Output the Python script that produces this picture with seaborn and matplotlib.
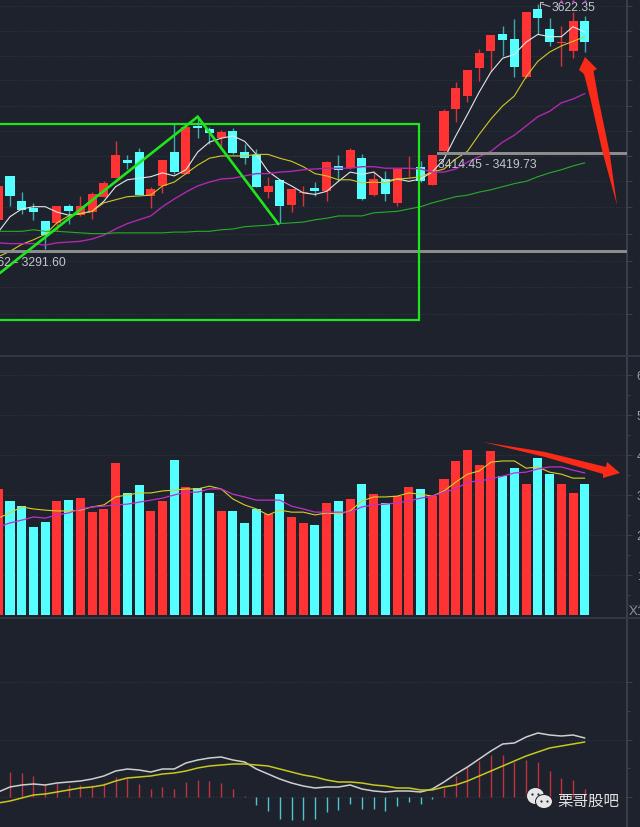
"""Index candlestick chart with volume and MACD panels, dark terminal look."""

import matplotlib.pyplot as plt
import numpy as np
import seaborn as sns
from matplotlib.patches import Ellipse, Polygon, Rectangle

# candles (first one sits mostly off the left edge)
idx = np.arange(-1, 50)
open_ = [3333, 3390, 3357, 3348, 3331, 3329, 3351, 3339, 3343, 3363, 3387, 3411, 3421, 3364, 3377, 3421, 3393,
         3455, 3451, 3439, 3448, 3421, 3417, 3369, 3385, 3352, 3368, 3374, 3370, 3403, 3400, 3413, 3365, 3386,
         3355, 3399, 3402, 3378, 3422, 3477, 3494, 3530, 3552, 3574, 3568, 3519, 3607, 3581, 3563, 3552, 3591]
close = [3377, 3364, 3346, 3343, 3313, 3351, 3344, 3351, 3366, 3381, 3417, 3407, 3365, 3373, 3411, 3395, 3454,
         3452, 3446, 3447, 3420, 3413, 3376, 3377, 3351, 3373, 3369, 3370, 3408, 3398, 3424, 3360, 3386, 3366,
         3399, 3400, 3383, 3417, 3474, 3504, 3528, 3550, 3573, 3567, 3532, 3603, 3595, 3564, 3564, 3591, 3564]
high = [3386, 3390, 3369, 3355, 3331, 3351, 3354, 3364, 3369, 3383, 3435, 3417, 3426, 3376, 3411, 3458, 3454,
        3467, 3454, 3450, 3452, 3432, 3425, 3389, 3385, 3373, 3377, 3382, 3409, 3417, 3426, 3418, 3396, 3396,
        3399, 3416, 3409, 3417, 3477, 3512, 3528, 3555, 3573, 3585, 3594, 3603, 3613, 3595, 3585, 3603, 3598]
low = [3328, 3351, 3340, 3333, 3295, 3318, 3328, 3338, 3334, 3363, 3387, 3399, 3365, 3348, 3368, 3393, 3393,
       3439, 3432, 3429, 3419, 3406, 3376, 3361, 3329, 3343, 3351, 3364, 3357, 3383, 3399, 3359, 3364, 3357,
       3351, 3389, 3382, 3378, 3422, 3460, 3486, 3513, 3526, 3546, 3519, 3517, 3574, 3559, 3533, 3543, 3551]

# price moving averages
ma5 = [3317, 3337, 3347, 3350, 3350, 3343, 3339, 3341, 3344, 3357, 3376, 3385, 3387, 3389, 3394, 3390, 3398,
       3421, 3434, 3439, 3442, 3435, 3418, 3396, 3385, 3377, 3368, 3366, 3370, 3383, 3395, 3392, 3395, 3383,
       3386, 3383, 3386, 3395, 3412, 3442, 3470, 3499, 3525, 3543, 3548, 3564, 3574, 3571, 3571, 3584, 3577]
ma10 = [3285, 3292, 3301, 3307, 3314, 3329, 3338, 3341, 3344, 3355, 3359, 3363, 3364, 3365, 3377, 3382, 3393,
        3404, 3413, 3416, 3416, 3416, 3418, 3418, 3413, 3409, 3402, 3393, 3390, 3385, 3385, 3381, 3382, 3381,
        3386, 3387, 3389, 3395, 3399, 3412, 3422, 3444, 3464, 3481, 3494, 3519, 3539, 3551, 3559, 3565, 3571]
ma20 = [3303, 3302, 3302, 3302, 3300, 3303, 3304, 3305, 3308, 3313, 3321, 3328, 3333, 3338, 3350, 3360, 3369,
        3377, 3382, 3386, 3387, 3390, 3393, 3393, 3395, 3396, 3398, 3399, 3400, 3400, 3400, 3402, 3402, 3400,
        3400, 3400, 3399, 3395, 3395, 3399, 3408, 3415, 3422, 3434, 3443, 3455, 3467, 3474, 3485, 3490, 3497]
ma60 = [3318, 3318, 3318, 3320, 3318, 3318, 3317, 3316, 3315, 3315, 3316, 3316, 3316, 3316, 3316, 3317, 3317,
        3318, 3318, 3320, 3321, 3324, 3325, 3326, 3328, 3329, 3330, 3333, 3335, 3338, 3338, 3338, 3342, 3343,
        3344, 3347, 3350, 3355, 3359, 3363, 3365, 3369, 3372, 3376, 3380, 3383, 3389, 3394, 3398, 3403, 3407]
price_grid = [3611, 3578, 3546, 3515, 3481, 3448, 3416, 3383, 3350, 3315, 3279, 3246, 3210]

# volume, in the panel's own units
volume = [3.14, 2.84, 2.71, 2.19, 2.31, 2.84, 2.86, 2.91, 2.56, 2.64, 3.79, 3.04, 3.24, 2.59, 2.84, 3.86, 3.19,
          3.16, 3.04, 2.59, 2.59, 2.29, 2.64, 2.51, 3.01, 2.44, 2.29, 2.24, 2.79, 2.84, 2.89, 3.26, 3.01, 2.79,
          2.96, 3.19, 3.14, 2.96, 3.39, 3.84, 4.11, 3.74, 4.09, 3.46, 3.66, 3.26, 3.91, 3.51, 3.26, 3.04, 3.26]
vol_ma5 = [2.41, 2.54, 2.69, 2.64, 2.61, 2.59, 2.59, 2.61, 2.69, 2.74, 2.94, 2.99, 3.04, 3.04, 3.09, 3.11, 3.14,
           3.14, 3.21, 3.14, 2.89, 2.74, 2.64, 2.49, 2.61, 2.56, 2.56, 2.49, 2.54, 2.51, 2.59, 2.84, 2.94, 2.94,
           2.96, 3.04, 3.01, 2.96, 3.09, 3.31, 3.51, 3.59, 3.81, 3.84, 3.84, 3.66, 3.69, 3.56, 3.51, 3.41, 3.41]
vol_ma10 = [2.19, 2.29, 2.36, 2.44, 2.41, 2.49, 2.54, 2.64, 2.69, 2.71, 2.74, 2.76, 2.81, 2.86, 2.91, 2.99, 3.06,
            3.06, 3.14, 3.14, 3.01, 2.94, 2.86, 2.86, 2.86, 2.71, 2.64, 2.56, 2.56, 2.56, 2.56, 2.69, 2.74, 2.76,
            2.79, 2.84, 2.91, 2.96, 3.06, 3.14, 3.31, 3.34, 3.39, 3.46, 3.54, 3.56, 3.64, 3.69, 3.69, 3.61, 3.54]
vol_ticks = [1, 2, 3, 4, 5, 6]

# MACD
dif = [5, 10, 12, 13, 12, 14, 15, 16, 18, 21, 26, 28, 27, 25, 28, 28, 34, 37, 39, 40, 37, 35, 28, 23, 18, 14, 11, 9,
       10, 10, 12, 8, 6, 5, 6, 6, 5, 8, 15, 23, 30, 38, 46, 53, 54, 60, 64, 62, 61, 62, 59]
dea = [-6, -4, -1, 2, 3, 5, 7, 9, 10, 12, 16, 19, 20, 21, 23, 24, 26, 29, 31, 32, 33, 33, 32, 31, 28, 25, 22, 20,
       17, 15, 15, 14, 12, 11, 9, 9, 7, 7, 10, 12, 16, 21, 26, 31, 36, 41, 45, 49, 51, 53, 55]
hist = [28, 25, 24, 21, 13, 14, 12, 12, 12, 14, 20, 19, 13, 8, 10, 8, 15, 17, 16, 14, 8, 1, -8, -14, -22, -23, -23, -22,
        -15, -13, -7, -12, -12, -14, -9, -5, -7, -2, 9, 21, 30, 36, 42, 42, 35, 37, 35, 26, 19, 17, 8]
macd_ticks = [0, 57, 115]

# support/resistance zones
zone_high = (3417.6, 3421.0)
zone_low = (3289.3, 3293.7)

BG = "#1d222d"
RED = "#ff3333"
CYAN = "#55ffff"
GRID = "#343945"
SCALE = "#3c424e"
LINE_GREEN = "#1fe61c"
ARROW_RED = "#f92a18"

sns.set_theme(style="dark", rc={"figure.facecolor": BG, "axes.facecolor": BG, "patch.edgecolor": "none"})
plt.rcParams["font.family"] = ["Liberation Sans", "Noto Sans CJK SC", "DejaVu Sans"]

fig = plt.figure(figsize=(6.4, 8.28), dpi=100)


def panel(top, bottom):
    """Axes between two pixel rows, stopping at the scale line on the right."""
    ax = fig.add_axes([0, 1 - bottom / 828, 627 / 640, (bottom - top) / 828])
    ax.set_xlim(-0.853, 52.6)
    ax.set_xticks([])
    for side in ("left", "top", "bottom"):
        ax.spines[side].set_visible(False)
    ax.spines["right"].set_color(SCALE)
    ax.yaxis.tick_right()
    ax.tick_params(axis="y", which="both", color=SCALE, length=3.6, width=0.7, right=True,
                   labelcolor="#9a9ea6", labelsize=9, pad=3.4)
    ax.grid(axis="y", color=GRID, linestyle=(0, (1, 2)), linewidth=0.7)
    ax.set_axisbelow(True)
    return ax


def draw_line(ax, y, color, lw=0.8):
    sns.lineplot(x=idx, y=y, ax=ax, color=color, linewidth=lw, errorbar=None, legend=False, zorder=4)


# price panel
ax_price = panel(0, 356)
ax_price.set_ylim(3157.2, 3620)
ax_price.set_yticks(price_grid)
ax_price.set_yticklabels([])
open_arr, close_arr = np.array(open_), np.array(close)
up = close_arr >= open_arr
ax_price.vlines(idx[up], np.array(low)[up], np.array(high)[up], color="#d8323a", lw=1.0, zorder=2)
ax_price.vlines(idx[~up], np.array(low)[~up], np.array(high)[~up], color="#3fa9b0", lw=1.0, zorder=2)
ax_price.bar(idx, np.abs(close_arr - open_arr), bottom=np.minimum(open_arr, close_arr), width=0.77,
             color=[RED if u else CYAN for u in up], linewidth=0, zorder=3)
draw_line(ax_price, ma5, "#e6e6e6")
draw_line(ax_price, ma10, "#d2c826")
draw_line(ax_price, ma20, "#b028b0", lw=1.0)
draw_line(ax_price, ma60, "#27ad27")
ax_price.fill_between([-0.853, 52.6], *zone_low, color="#8c8c8c", lw=0, zorder=4)
ax_price.fill_between([36.4, 52.6], *zone_high, color="#8c8c8c", lw=0, zorder=4)
ax_price.set_xlim(-0.853, 52.6)
ax_price.set_ylim(3157.2, 3620)
ax_price.set_ylabel("")

# volume panel
ax_vol = panel(358, 618)
bar_hue = ["up" if u else "down" for u in up]
sns.barplot(x=idx, y=volume, hue=bar_hue, palette={"up": RED, "down": CYAN}, native_scale=True, dodge=False,
            width=0.77, saturation=1, linewidth=0, legend=False, ax=ax_vol, zorder=3)
draw_line(ax_vol, vol_ma5, "#d8d020")
draw_line(ax_vol, vol_ma10, "#c030c8", lw=0.9)
ax_vol.set_xlim(-0.853, 52.6)
ax_vol.set_xticks([])
ax_vol.set_ylim(-0.0625, 6.44)
ax_vol.set_yticks(vol_ticks)
ax_vol.set_yticks(np.array(vol_ticks) - 0.5, minor=True)
ax_vol.set_yticklabels([str(t) for t in vol_ticks])
ax_vol.tick_params(axis="y", which="minor", length=2, right=True, left=False)
ax_vol.set_ylabel("")

# MACD panel
ax_macd = panel(620, 828)
ax_macd.set_xlim(-0.853, 52.6)
ax_macd.set_ylim(-30, 178)
ax_macd.set_yticks(macd_ticks)
ax_macd.set_yticks([29, 86], minor=True)
ax_macd.set_yticklabels([])
ax_macd.tick_params(axis="y", which="minor", length=2, right=True, left=False)
hist_arr = np.array(hist)
ax_macd.vlines(idx[hist_arr >= 0], 0, hist_arr[hist_arr >= 0], color="#c2323c", lw=1.0, zorder=3)
ax_macd.vlines(idx[hist_arr < 0], 0, hist_arr[hist_arr < 0], color="#4fc6cc", lw=1.0, zorder=3)
draw_line(ax_macd, dif, "#cfcfcf", lw=1.1)
draw_line(ax_macd, dea, "#c8c81e", lw=1.1)
ax_macd.set_ylabel("")

# hand-drawn marks and labels, in image pixels
ov = fig.add_axes([0, 0, 1, 1], zorder=10)
ov.set_xlim(0, 640)
ov.set_ylim(828, 0)
ov.axis("off")
ov.patch.set_alpha(0)

for y in (356.7, 619.3):
    ov.plot([0, 640], [y, y], color="#333944", lw=1.4, zorder=1)
ov.plot([627, 640], [606, 606], color="#333944", lw=0.9)
ov.text(629, 612.5, "X1", color="#8f939b", fontsize=9.5, va="center", ha="left")

ov.add_patch(Rectangle((-10, 124.5), 429, 196, fill=False, edgecolor=LINE_GREEN, lw=1.6))
ov.plot([0, 197.7, 278.3], [274, 117.7, 225], color=LINE_GREEN, lw=1.9, solid_joinstyle="miter")

ov.add_patch(Polygon([(585, 58), (597, 70), (593.5, 72), (598.5, 100), (609.5, 153), (617, 206), (602.5, 153),
                      (590.5, 100), (584, 75), (579, 71)],
                     closed=True, facecolor=ARROW_RED, edgecolor="none"))
ov.add_patch(Polygon([(483, 443), (545, 453), (606, 468), (607, 463), (620, 474), (603, 479), (603, 475),
                      (545, 458)],
                     closed=True, facecolor=ARROW_RED, edgecolor="none"))

label_color = "#c4c6ca"
ov.text(552, 8.3, "3622.35", color=label_color, fontsize=8.7, va="center", ha="left")
ov.plot([542, 550], [5, 7.5], color=label_color, lw=0.7)
ov.plot([539.5, 539.5, 543], [9, 3, 3], color=label_color, lw=0.7)
ov.scatter([561, 573, 585], [2, 2, 2], s=3, color="#d040d0", linewidths=0, zorder=5)
ov.text(438, 165.5, "3414.45 - 3419.73", color=label_color, fontsize=8.8, va="center", ha="left")
ov.text(66, 263.5, "3288.62 - 3291.60", color=label_color, fontsize=8.8, va="center", ha="right")

# watermark
for cx, cy, w, h in ((535.5, 797, 17, 16), (544, 802.5, 16, 13)):
    ov.add_patch(Ellipse((cx, cy), w + 2, h + 2, facecolor=BG, edgecolor="none"))
    ov.add_patch(Ellipse((cx, cy), w, h, facecolor="#e6e6e6", edgecolor="none"))
ov.scatter([532, 538, 541, 547], [795, 795, 802, 802], s=2.5, color=BG, linewidths=0)
ov.text(557, 801, "栗哥股吧", color="#e0e0e0", fontsize=11.2, va="center", ha="left")

plt.savefig("out.png", dpi=100, facecolor=BG)
